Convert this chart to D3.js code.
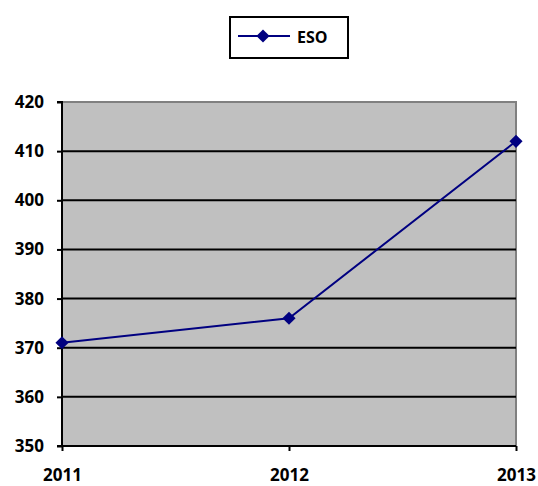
<!DOCTYPE html>
<html lang="en">
<head>
    <meta charset="UTF-8">
    <title>ESO</title>
    <script src="https://d3js.org/d3.v7.min.js"></script>
    <style>
        body { margin: 0; background: #fff; }
        text { font-family: "Open Sans", "Liberation Sans", sans-serif; font-weight: 700; }
    </style>
</head>
<body>
    <svg width="538" height="486"></svg>
    <script>
        // Data
        const years = ["2011", "2012", "2013"];
        const values = [371, 376, 412];
        const yTicks = [350, 360, 370, 380, 390, 400, 410, 420];
        const seriesName = "ESO";

        const margin = { top: 102, right: 22, bottom: 40, left: 62 },
              width = 538 - margin.left - margin.right,
              height = 486 - margin.top - margin.bottom;

        const svg = d3.select("svg");
        const g = svg.append("g")
                     .attr("transform", `translate(${margin.left},${margin.top})`);

        const x = d3.scalePoint()
                    .domain(years)
                    .range([0, width]);

        const y = d3.scaleLinear()
                    .domain([350, 420])
                    .range([height, 0]);

        // Plot area background
        g.append("rect")
         .attr("width", width)
         .attr("height", height)
         .attr("fill", "#c0c0c0")
         .attr("stroke", "#808080")
         .attr("stroke-width", 2);

        // Gridlines
        g.selectAll(".grid")
         .data(yTicks.filter(t => t > 350 && t < 420))
         .enter()
         .append("line")
         .attr("x1", 0)
         .attr("x2", width)
         .attr("y1", d => y(d))
         .attr("y2", d => y(d))
         .attr("stroke", "#000")
         .attr("stroke-width", 2);

        // Y axis
        const yAxis = g.append("g")
                       .call(d3.axisLeft(y).tickValues(yTicks).tickSize(5).tickPadding(13));
        yAxis.select(".domain").attr("stroke-width", 2).attr("d", `M-5,0H0V${height}H-5`);
        yAxis.selectAll(".tick line").attr("stroke-width", 2);
        yAxis.selectAll("text").style("font-size", "17px").attr("fill", "#000");

        // X axis
        const xAxis = g.append("g")
                       .attr("transform", `translate(0,${height})`)
                       .call(d3.axisBottom(x).tickSize(5).tickPadding(18));
        xAxis.select(".domain").attr("stroke-width", 2).attr("d", `M0,0H${width}`);
        xAxis.selectAll(".tick line").attr("stroke-width", 2);
        xAxis.selectAll("text").style("font-size", "17px").attr("fill", "#000");

        // Line
        const line = d3.line()
                       .x((d, i) => x(years[i]))
                       .y(d => y(d));

        g.append("path")
         .datum(values)
         .attr("d", line)
         .attr("fill", "none")
         .attr("stroke", "#000080")
         .attr("stroke-width", 2);

        const diamond = d3.symbol().type(d3.symbolDiamond2).size(110);

        g.selectAll(".pt")
         .data(values)
         .enter()
         .append("path")
         .attr("transform", (d, i) => `translate(${x(years[i])},${y(d)})`)
         .attr("d", diamond)
         .attr("fill", "#000080");

        // Legend
        const legend = svg.append("g").attr("transform", "translate(230,17)");
        legend.append("rect")
              .attr("width", 118)
              .attr("height", 41)
              .attr("fill", "#fff")
              .attr("stroke", "#000")
              .attr("stroke-width", 2);
        legend.append("line")
              .attr("x1", 8).attr("x2", 60)
              .attr("y1", 19).attr("y2", 19)
              .attr("stroke", "#000080")
              .attr("stroke-width", 2);
        legend.append("path")
              .attr("transform", "translate(33,19)")
              .attr("d", diamond)
              .attr("fill", "#000080");
        legend.append("text")
              .attr("x", 67)
              .attr("y", 26)
              .style("font-size", "16px")
              .text(seriesName);
    </script>
</body>
</html>
